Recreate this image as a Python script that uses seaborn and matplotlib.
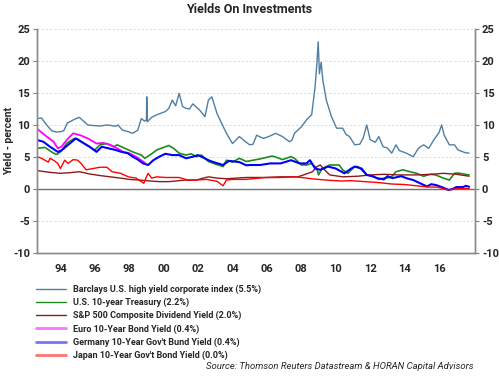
import matplotlib
matplotlib.use('Agg')
import matplotlib.pyplot as plt
from matplotlib.lines import Line2D
import seaborn as sns
import pandas as pd

# 데이터 (그림에서 읽은 값, 연도는 소수 표현)
hy_t = [1992.65, 1992.9, 1993.2, 1993.5, 1993.75, 1994.0, 1994.2, 1994.4, 1994.9, 1995.1,
        1995.3, 1995.6, 1996.0, 1996.3, 1996.7, 1997.0, 1997.2, 1997.35, 1997.6, 1997.9,
        1998.2, 1998.5, 1998.7, 1998.9, 1999.0, 1999.02, 1999.05, 1999.3, 1999.6, 2000.1,
        2000.3, 2000.5, 2000.7, 2000.9, 2001.1, 2001.3, 2001.5, 2001.7, 2002.1, 2002.4,
        2002.6, 2002.8, 2003.1, 2003.45, 2003.65, 2004.0, 2004.4, 2004.7, 2005.0, 2005.2,
        2005.4, 2005.8, 2006.2, 2006.5, 2006.9, 2007.3, 2007.45, 2007.6, 2008.0, 2008.3,
        2008.6, 2008.8, 2008.9, 2008.98, 2009.05, 2009.15, 2009.25, 2009.45, 2009.75, 2010.05,
        2010.4, 2010.6, 2010.8, 2011.1, 2011.4, 2011.6, 2011.8, 2012.0, 2012.3, 2012.5,
        2012.75, 2013.0, 2013.25, 2013.5, 2013.7, 2014.1, 2014.5, 2014.8, 2015.1, 2015.4,
        2015.75, 2016.0, 2016.15, 2016.3, 2016.6, 2016.9, 2017.1, 2017.5, 2017.75]
hy_v = [11.0, 11.1, 10.0, 9.1, 8.9, 8.95, 9.1, 10.3, 11.0, 11.2,
        10.7, 10.0, 9.9, 9.84, 10.0, 9.9, 9.8, 10.0, 9.2, 9.0,
        8.7, 9.2, 11.0, 10.6, 10.8, 14.4, 10.5, 11.2, 11.6, 12.1,
        12.6, 13.9, 13.0, 14.95, 12.9, 12.6, 12.5, 13.3, 12.3, 11.3,
        13.9, 14.4, 11.8, 9.8, 8.7, 7.1, 8.2, 7.5, 6.9, 7.0,
        8.4, 7.9, 8.3, 8.7, 8.2, 7.4, 7.6, 8.7, 9.7, 10.8,
        11.6, 16.0, 19.5, 23.0, 18.0, 19.8, 17.0, 13.9, 11.3, 9.5,
        9.5, 8.5, 8.2, 6.9, 7.0, 8.0, 10.0, 7.7, 7.3, 8.2,
        6.6, 6.4, 5.6, 6.9, 6.0, 5.6, 5.05, 6.35, 6.9, 6.35,
        7.9, 8.8, 10.0, 8.4, 6.9, 6.9, 6.1, 5.7, 5.6]

us_t = [1992.65, 1993.1, 1993.6, 1993.8, 1994.0, 1994.35, 1994.8, 1995.0, 1995.5, 1996.0,
        1996.3, 1996.7, 1997.1, 1997.3, 1997.75, 1998.2, 1998.7, 1998.9, 1999.2, 1999.6,
        2000.1, 2000.3, 2000.6, 2000.9, 2001.3, 2001.6, 2001.9, 2002.2, 2002.6, 2002.9,
        2003.45, 2003.65, 2004.0, 2004.4, 2004.8, 2005.0, 2005.6, 2006.3, 2006.5, 2006.9,
        2007.4, 2007.6, 2008.0, 2008.3, 2008.6, 2008.9, 2009.0, 2009.2, 2009.65, 2010.2,
        2010.4, 2010.7, 2011.1, 2011.3, 2011.8, 2012.2, 2012.5, 2012.8, 2013.2, 2013.5,
        2013.9, 2014.3, 2014.7, 2015.1, 2015.5, 2015.8, 2016.25, 2016.6, 2016.9, 2017.1,
        2017.5, 2017.75]
us_v = [6.35, 6.5, 5.6, 5.4, 5.8, 7.1, 7.9, 7.8, 6.9, 6.1,
        6.9, 7.1, 6.6, 6.9, 6.35, 5.8, 5.3, 4.8, 5.3, 6.1,
        6.6, 6.8, 6.3, 5.6, 5.3, 5.5, 5.05, 5.3, 4.3, 4.0,
        3.5, 4.5, 4.2, 4.8, 4.3, 4.4, 4.7, 5.15, 5.0, 4.6,
        5.05, 4.8, 3.75, 3.75, 4.0, 3.2, 2.2, 3.2, 3.75, 3.75,
        3.0, 2.45, 3.5, 3.5, 2.2, 2.0, 1.5, 1.7, 1.8, 2.7,
        3.0, 2.7, 2.45, 2.0, 2.3, 2.2, 1.7, 1.4, 2.45, 2.5,
        2.3, 2.2]

sp_t = [1992.65, 1993.4, 1994.0, 1994.55, 1995.1, 1995.7, 1996.3, 1996.9, 1997.5, 1998.0,
        1998.6, 1999.2, 1999.75, 2000.3, 2000.9, 2001.3, 2001.9, 2002.3, 2002.6, 2003.1,
        2003.65, 2004.2, 2004.8, 2005.8, 2006.75, 2007.8, 2008.4, 2008.65, 2008.9, 2009.1,
        2009.35, 2009.65, 2010.4, 2011.3, 2012.0, 2012.8, 2013.7, 2014.7, 2015.6, 2016.25,
        2017.0, 2017.75]
sp_v = [2.87, 2.6, 2.45, 2.55, 2.7, 2.35, 2.1, 1.9, 1.7, 1.5,
        1.4, 1.25, 1.15, 1.15, 1.3, 1.4, 1.4, 1.7, 1.9, 1.7,
        1.6, 1.7, 1.8, 1.8, 1.9, 1.9, 2.45, 2.7, 3.5, 3.75,
        3.0, 2.2, 1.9, 2.0, 2.2, 2.3, 2.2, 2.2, 2.3, 2.45,
        2.3, 2.0]

eu_t = [1992.65, 1993.2, 1993.6, 1993.85, 1994.05, 1994.45, 1994.75, 1995.15, 1995.6, 1996.1,
        1996.5, 1996.9, 1997.3, 1997.65, 1998.0, 1998.4, 1998.8, 1998.95]
eu_v = [9.4, 8.2, 7.4, 6.35, 6.6, 7.9, 8.7, 8.4, 7.9, 7.1,
        7.2, 6.9, 6.35, 5.8, 5.6, 5.05, 4.3, 4.0]

de_t = [1992.65, 1993.0, 1993.4, 1993.85, 1994.05, 1994.45, 1994.9, 1995.2, 1995.7, 1996.1,
        1996.4, 1996.8, 1997.2, 1997.55, 1997.9, 1998.2, 1998.5, 1998.8, 1999.1, 1999.4,
        1999.75, 2000.1, 2000.5, 2000.9, 2001.3, 2001.7, 2002.0, 2002.6, 2002.9, 2003.45,
        2003.8, 2004.4, 2004.8, 2005.0, 2005.6, 2006.2, 2006.8, 2007.4, 2007.9, 2008.3,
        2008.5, 2008.8, 2009.1, 2009.55, 2010.0, 2010.5, 2010.9, 2011.1, 2011.5, 2011.8,
        2012.1, 2012.4, 2012.8, 2013.0, 2013.3, 2013.8, 2014.1, 2014.5, 2014.9, 2015.3,
        2015.55, 2015.85, 2016.25, 2016.55, 2016.8, 2017.0, 2017.4, 2017.55, 2017.75]
de_v = [7.65, 7.4, 6.6, 5.8, 6.0, 6.9, 7.9, 7.4, 6.6, 5.8,
        6.6, 6.35, 6.1, 5.8, 5.6, 5.05, 4.6, 4.0, 3.75, 4.5,
        5.05, 5.5, 5.3, 5.3, 4.8, 5.05, 5.3, 4.5, 4.2, 3.75,
        4.4, 4.2, 3.7, 3.75, 3.75, 4.0, 4.0, 4.5, 4.0, 4.0,
        4.5, 3.2, 3.0, 3.5, 3.2, 2.45, 3.2, 3.5, 3.2, 2.2,
        2.0, 1.7, 1.5, 2.0, 1.7, 2.0, 1.7, 1.4, 0.9, 0.4,
        0.75, 0.6, 0.2, -0.15, 0.0, 0.3, 0.3, 0.5, 0.35]

jp_t = [1992.65, 1992.9, 1993.3, 1993.4, 1993.6, 1993.85, 1994.0, 1994.25, 1994.45, 1994.75,
        1995.0, 1995.2, 1995.5, 1995.9, 1996.3, 1996.7, 1997.0, 1997.5, 1997.95, 1998.4,
        1998.7, 1998.85, 1999.0, 1999.1, 1999.3, 1999.6, 2000.1, 2000.9, 2001.4, 2001.9,
        2002.5, 2003.1, 2003.45, 2003.65, 2004.0, 2004.8, 2005.8, 2006.75, 2007.7, 2008.6,
        2009.4, 2010.3, 2010.9, 2011.7, 2012.5, 2013.25, 2014.0, 2014.8, 2015.4, 2015.9,
        2016.55, 2016.9, 2017.5, 2017.75]
jp_v = [5.05, 4.8, 4.2, 4.8, 4.5, 4.0, 3.2, 4.5, 4.0, 4.6,
        4.5, 4.0, 3.0, 3.2, 3.4, 3.4, 2.7, 2.45, 1.9, 1.7,
        1.15, 0.9, 1.9, 2.45, 1.7, 1.9, 1.8, 1.8, 1.4, 1.4,
        1.5, 1.2, 0.5, 1.4, 1.5, 1.5, 1.77, 1.8, 1.9, 1.6,
        1.4, 1.25, 1.3, 1.15, 1.0, 0.78, 0.7, 0.47, 0.3, 0.3,
        -0.15, 0.0, 0.1, 0.05]

labels = ['Barclays U.S. high yield corporate index (5.5%)',
          'U.S. 10-year Treasury (2.2%)',
          'S&P 500 Composite Dividend Yield (2.0%)',
          'Euro 10-Year Bond Yield (0.4%)',
          "Germany 10-Year Gov't Bund Yield (0.4%)",
          "Japan 10-Year Gov't Bond Yield (0.0%)"]
year_ticks = [1994, 1996, 1998, 2000, 2002, 2004, 2006, 2008, 2010, 2012, 2014, 2016]
year_labels = ['94', '96', '98', '00', '02', '04', '06', '08', '10', '12', '14', '16']
y_ticks = [-10, -5, 0, 5, 10, 15, 20, 25]

series = [(hy_t, hy_v), (us_t, us_v), (sp_t, sp_v), (eu_t, eu_v), (de_t, de_v), (jp_t, jp_v)]
colors = ['#4f7fa3', '#1c8c1c', '#8b1a1a', '#ff00ff', '#0000ff', '#ff0000']
widths = [1.0, 1.2, 1.0, 1.3, 1.5, 1.0]

sns.set_style('white')
plt.rcParams['font.family'] = ['Roboto', 'DejaVu Sans']

fig = plt.figure(figsize=(4.99, 3.77), dpi=100)
ax = fig.add_axes([0.0741, 0.3289, 0.8778, 0.5942])

# 격자선
for v in [-5, 5, 10, 15, 20, 25]:
    ax.axhline(v, color='#d9d9d9', lw=0.6, ls=(0, (3, 2)), zorder=0)
ax.axhline(0, color='#707070', lw=1.0, zorder=1)

for (t, v), c, w in zip(series, colors, widths):
    df = pd.DataFrame({'year': t, 'yield': v})
    sns.lineplot(data=df, x='year', y='yield', color=c, lw=w, ax=ax, legend=False)

ax.set_xlim(1992.64, 2018.09)
ax.set_ylim(-10, 25)
ax.set_xticks(year_ticks)
ax.set_xticklabels(year_labels, fontweight='bold', fontsize=8)
ax.set_yticks(y_ticks)
ax.set_yticklabels([str(v) for v in y_ticks], fontweight='bold', fontsize=8)
ax.tick_params(axis='x', length=0, pad=8)
ax.tick_params(axis='y', length=3, width=0.8, color='#808080', pad=2, direction='out', left=True)
ax.set_xlabel('')
ax.set_ylabel('Yield - percent', fontweight='bold', fontsize=7.5)
ax.yaxis.set_label_coords(-0.052, 0.5)

ax2 = ax.twinx()
ax2.set_ylim(-10, 25)
ax2.set_yticks(y_ticks)
ax2.set_yticklabels([str(v) for v in y_ticks], fontweight='bold', fontsize=8)
ax2.tick_params(axis='y', length=3, width=0.8, color='#808080', pad=2, direction='out', right=True)

for a in [ax, ax2]:
    a.spines['top'].set_visible(False)
    for s in ['left', 'right', 'bottom']:
        a.spines[s].set_color('#8c8c8c')
        a.spines[s].set_linewidth(1.0)

fig.suptitle('Yields On Investments', fontweight='bold', fontsize=9, y=0.992)

handles = []
for i, (c, w) in enumerate(zip(colors, widths)):
    if i >= 3:
        handles.append(Line2D([], [], color=c, lw=2.0, alpha=0.55))
    else:
        handles.append(Line2D([], [], color=c, lw=1.0))
fig.legend(handles, labels, loc='upper left', bbox_to_anchor=(0.072, 0.245),
           frameon=False, prop={'weight': 'bold', 'size': 6.5},
           handlelength=3.3, handletextpad=0.8, labelspacing=0.42, borderpad=0, borderaxespad=0)

fig.text(0.948, 0.027, 'Source: Thomson Reuters Datastream & HORAN Capital Advisors',
         ha='right', va='center', style='italic', fontsize=6.8)

fig.savefig('out.png', dpi=100)
